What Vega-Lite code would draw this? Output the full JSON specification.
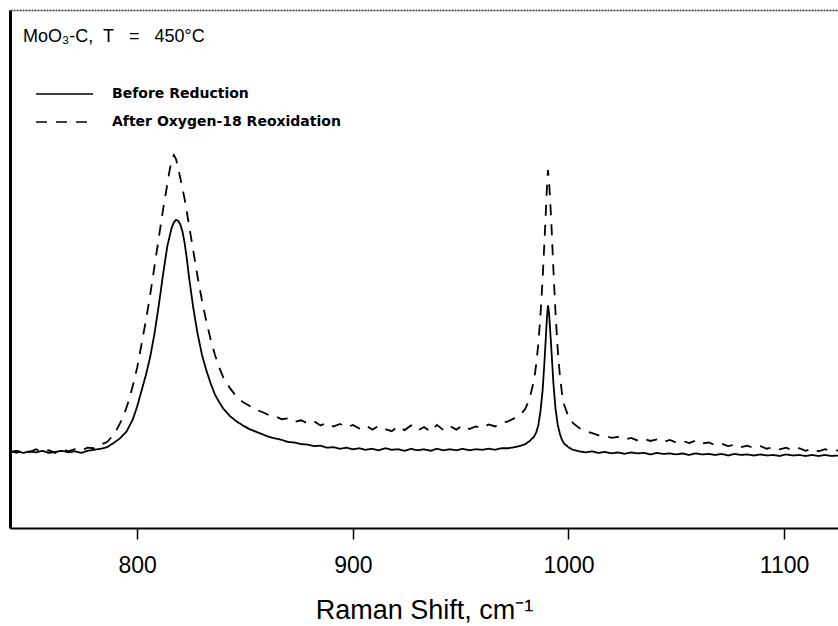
{
  "$schema": "https://vega.github.io/schema/vega-lite/v6.json",
  "width": 828,
  "height": 518,
  "autosize": {"type": "none"},
  "padding": {"left": 10, "top": 10, "right": 0, "bottom": 98},
  "background": "white",
  "config": {"view": {"stroke": null}, "font": "Liberation Sans"},
  "title": {"text": "MoO\u2083-C,\u00a0 T\u00a0\u00a0 =\u00a0\u00a0 450°C", "anchor": "start", "frame": "group", "orient": "top", "offset": -18, "baseline": "alphabetic", "dx": 13, "dy": 32, "fontSize": 18, "fontWeight": "normal", "font": "Liberation Sans", "color": "black"},
  "data": {"values": [
    {"w":741,"i":14.6,"s":"Before Reduction"},{"w":744,"i":14.9,"s":"Before Reduction"},{"w":747,"i":14.5,"s":"Before Reduction"},{"w":750,"i":14.8,"s":"Before Reduction"},{"w":753,"i":14.6,"s":"Before Reduction"},{"w":756,"i":14.9,"s":"Before Reduction"},{"w":759,"i":14.5,"s":"Before Reduction"},{"w":762,"i":14.7,"s":"Before Reduction"},{"w":765,"i":14.9,"s":"Before Reduction"},{"w":768,"i":14.6,"s":"Before Reduction"},{"w":771,"i":14.8,"s":"Before Reduction"},{"w":774,"i":14.5,"s":"Before Reduction"},{"w":777,"i":14.9,"s":"Before Reduction"},{"w":780,"i":15.1,"s":"Before Reduction"},{"w":783,"i":15.3,"s":"Before Reduction"},{"w":786,"i":15.6,"s":"Before Reduction"},{"w":789,"i":16.4,"s":"Before Reduction"},{"w":792,"i":17.3,"s":"Before Reduction"},{"w":795,"i":18.6,"s":"Before Reduction"},{"w":798,"i":21.0,"s":"Before Reduction"},{"w":800,"i":23.5,"s":"Before Reduction"},{"w":802,"i":26.5,"s":"Before Reduction"},{"w":804,"i":29.5,"s":"Before Reduction"},{"w":806,"i":33.0,"s":"Before Reduction"},{"w":808,"i":37.5,"s":"Before Reduction"},{"w":810,"i":43.0,"s":"Before Reduction"},{"w":812,"i":49.0,"s":"Before Reduction"},{"w":814,"i":54.5,"s":"Before Reduction"},{"w":816,"i":58.0,"s":"Before Reduction"},{"w":817,"i":59.0,"s":"Before Reduction"},{"w":818,"i":59.5,"s":"Before Reduction"},{"w":819,"i":59.3,"s":"Before Reduction"},{"w":820,"i":58.6,"s":"Before Reduction"},{"w":821,"i":57.2,"s":"Before Reduction"},{"w":822,"i":55.0,"s":"Before Reduction"},{"w":823,"i":52.0,"s":"Before Reduction"},{"w":824,"i":48.5,"s":"Before Reduction"},{"w":825,"i":45.5,"s":"Before Reduction"},{"w":826,"i":42.5,"s":"Before Reduction"},{"w":828,"i":37.5,"s":"Before Reduction"},{"w":830,"i":33.5,"s":"Before Reduction"},{"w":832,"i":30.5,"s":"Before Reduction"},{"w":834,"i":28.0,"s":"Before Reduction"},{"w":836,"i":25.8,"s":"Before Reduction"},{"w":838,"i":24.3,"s":"Before Reduction"},{"w":840,"i":23.0,"s":"Before Reduction"},{"w":843,"i":21.6,"s":"Before Reduction"},{"w":846,"i":20.6,"s":"Before Reduction"},{"w":849,"i":19.8,"s":"Before Reduction"},{"w":852,"i":19.1,"s":"Before Reduction"},{"w":855,"i":18.6,"s":"Before Reduction"},{"w":858,"i":18.1,"s":"Before Reduction"},{"w":861,"i":17.6,"s":"Before Reduction"},{"w":864,"i":17.3,"s":"Before Reduction"},{"w":867,"i":17.0,"s":"Before Reduction"},{"w":870,"i":16.6,"s":"Before Reduction"},{"w":873,"i":16.5,"s":"Before Reduction"},{"w":876,"i":16.2,"s":"Before Reduction"},{"w":879,"i":16.1,"s":"Before Reduction"},{"w":882,"i":15.8,"s":"Before Reduction"},{"w":885,"i":15.9,"s":"Before Reduction"},{"w":888,"i":15.5,"s":"Before Reduction"},{"w":891,"i":15.6,"s":"Before Reduction"},{"w":894,"i":15.3,"s":"Before Reduction"},{"w":897,"i":15.5,"s":"Before Reduction"},{"w":900,"i":15.2,"s":"Before Reduction"},{"w":903,"i":15.4,"s":"Before Reduction"},{"w":906,"i":15.1,"s":"Before Reduction"},{"w":909,"i":15.3,"s":"Before Reduction"},{"w":912,"i":15.0,"s":"Before Reduction"},{"w":915,"i":15.4,"s":"Before Reduction"},{"w":918,"i":15.1,"s":"Before Reduction"},{"w":921,"i":15.2,"s":"Before Reduction"},{"w":924,"i":14.9,"s":"Before Reduction"},{"w":927,"i":15.3,"s":"Before Reduction"},{"w":930,"i":15.0,"s":"Before Reduction"},{"w":933,"i":15.2,"s":"Before Reduction"},{"w":936,"i":14.9,"s":"Before Reduction"},{"w":939,"i":15.3,"s":"Before Reduction"},{"w":942,"i":15.0,"s":"Before Reduction"},{"w":945,"i":15.2,"s":"Before Reduction"},{"w":948,"i":15.0,"s":"Before Reduction"},{"w":951,"i":15.3,"s":"Before Reduction"},{"w":954,"i":15.0,"s":"Before Reduction"},{"w":957,"i":15.2,"s":"Before Reduction"},{"w":960,"i":15.1,"s":"Before Reduction"},{"w":963,"i":15.3,"s":"Before Reduction"},{"w":966,"i":15.1,"s":"Before Reduction"},{"w":969,"i":15.4,"s":"Before Reduction"},{"w":972,"i":15.4,"s":"Before Reduction"},{"w":975,"i":15.6,"s":"Before Reduction"},{"w":978,"i":15.9,"s":"Before Reduction"},{"w":980,"i":16.2,"s":"Before Reduction"},{"w":982,"i":16.8,"s":"Before Reduction"},{"w":984,"i":17.6,"s":"Before Reduction"},{"w":985,"i":18.4,"s":"Before Reduction"},{"w":986,"i":19.8,"s":"Before Reduction"},{"w":987,"i":22.5,"s":"Before Reduction"},{"w":988,"i":26.5,"s":"Before Reduction"},{"w":989,"i":33.0,"s":"Before Reduction"},{"w":990,"i":40.5,"s":"Before Reduction"},{"w":990.5,"i":43.0,"s":"Before Reduction"},{"w":991,"i":41.5,"s":"Before Reduction"},{"w":992,"i":35.0,"s":"Before Reduction"},{"w":993,"i":28.0,"s":"Before Reduction"},{"w":994,"i":23.0,"s":"Before Reduction"},{"w":995,"i":20.0,"s":"Before Reduction"},{"w":996,"i":18.2,"s":"Before Reduction"},{"w":997,"i":17.0,"s":"Before Reduction"},{"w":998,"i":16.3,"s":"Before Reduction"},{"w":1000,"i":15.6,"s":"Before Reduction"},{"w":1002,"i":15.1,"s":"Before Reduction"},{"w":1005,"i":14.8,"s":"Before Reduction"},{"w":1008,"i":14.6,"s":"Before Reduction"},{"w":1011,"i":14.8,"s":"Before Reduction"},{"w":1014,"i":14.5,"s":"Before Reduction"},{"w":1017,"i":14.7,"s":"Before Reduction"},{"w":1020,"i":14.4,"s":"Before Reduction"},{"w":1023,"i":14.6,"s":"Before Reduction"},{"w":1026,"i":14.3,"s":"Before Reduction"},{"w":1029,"i":14.6,"s":"Before Reduction"},{"w":1032,"i":14.4,"s":"Before Reduction"},{"w":1035,"i":14.5,"s":"Before Reduction"},{"w":1038,"i":14.2,"s":"Before Reduction"},{"w":1041,"i":14.5,"s":"Before Reduction"},{"w":1044,"i":14.3,"s":"Before Reduction"},{"w":1047,"i":14.4,"s":"Before Reduction"},{"w":1050,"i":14.2,"s":"Before Reduction"},{"w":1053,"i":14.4,"s":"Before Reduction"},{"w":1056,"i":14.1,"s":"Before Reduction"},{"w":1059,"i":14.4,"s":"Before Reduction"},{"w":1062,"i":14.2,"s":"Before Reduction"},{"w":1065,"i":14.3,"s":"Before Reduction"},{"w":1068,"i":14.1,"s":"Before Reduction"},{"w":1071,"i":14.3,"s":"Before Reduction"},{"w":1074,"i":14.0,"s":"Before Reduction"},{"w":1077,"i":14.3,"s":"Before Reduction"},{"w":1080,"i":14.1,"s":"Before Reduction"},{"w":1083,"i":14.2,"s":"Before Reduction"},{"w":1086,"i":14.0,"s":"Before Reduction"},{"w":1089,"i":14.2,"s":"Before Reduction"},{"w":1092,"i":14.0,"s":"Before Reduction"},{"w":1095,"i":14.1,"s":"Before Reduction"},{"w":1098,"i":13.9,"s":"Before Reduction"},{"w":1101,"i":14.2,"s":"Before Reduction"},{"w":1104,"i":14.0,"s":"Before Reduction"},{"w":1107,"i":14.1,"s":"Before Reduction"},{"w":1110,"i":13.9,"s":"Before Reduction"},{"w":1113,"i":14.1,"s":"Before Reduction"},{"w":1116,"i":13.9,"s":"Before Reduction"},{"w":1119,"i":14.1,"s":"Before Reduction"},{"w":1122,"i":13.9,"s":"Before Reduction"},{"w":1125,"i":14.0,"s":"Before Reduction"},
    {"w":741,"i":14.9,"s":"After Oxygen-18 Reoxidation"},{"w":744,"i":14.5,"s":"After Oxygen-18 Reoxidation"},{"w":747,"i":15.1,"s":"After Oxygen-18 Reoxidation"},{"w":750,"i":14.6,"s":"After Oxygen-18 Reoxidation"},{"w":753,"i":15.2,"s":"After Oxygen-18 Reoxidation"},{"w":756,"i":14.7,"s":"After Oxygen-18 Reoxidation"},{"w":759,"i":15.0,"s":"After Oxygen-18 Reoxidation"},{"w":762,"i":14.5,"s":"After Oxygen-18 Reoxidation"},{"w":765,"i":15.3,"s":"After Oxygen-18 Reoxidation"},{"w":768,"i":14.8,"s":"After Oxygen-18 Reoxidation"},{"w":771,"i":15.2,"s":"After Oxygen-18 Reoxidation"},{"w":774,"i":14.9,"s":"After Oxygen-18 Reoxidation"},{"w":777,"i":15.5,"s":"After Oxygen-18 Reoxidation"},{"w":780,"i":15.4,"s":"After Oxygen-18 Reoxidation"},{"w":783,"i":16.1,"s":"After Oxygen-18 Reoxidation"},{"w":786,"i":16.6,"s":"After Oxygen-18 Reoxidation"},{"w":788,"i":17.5,"s":"After Oxygen-18 Reoxidation"},{"w":790,"i":18.6,"s":"After Oxygen-18 Reoxidation"},{"w":792,"i":20.2,"s":"After Oxygen-18 Reoxidation"},{"w":794,"i":22.0,"s":"After Oxygen-18 Reoxidation"},{"w":796,"i":24.5,"s":"After Oxygen-18 Reoxidation"},{"w":798,"i":27.5,"s":"After Oxygen-18 Reoxidation"},{"w":800,"i":31.0,"s":"After Oxygen-18 Reoxidation"},{"w":802,"i":35.5,"s":"After Oxygen-18 Reoxidation"},{"w":804,"i":40.0,"s":"After Oxygen-18 Reoxidation"},{"w":806,"i":45.0,"s":"After Oxygen-18 Reoxidation"},{"w":808,"i":50.5,"s":"After Oxygen-18 Reoxidation"},{"w":810,"i":56.0,"s":"After Oxygen-18 Reoxidation"},{"w":812,"i":61.5,"s":"After Oxygen-18 Reoxidation"},{"w":814,"i":66.5,"s":"After Oxygen-18 Reoxidation"},{"w":815,"i":69.0,"s":"After Oxygen-18 Reoxidation"},{"w":816,"i":71.0,"s":"After Oxygen-18 Reoxidation"},{"w":817,"i":72.0,"s":"After Oxygen-18 Reoxidation"},{"w":818,"i":71.2,"s":"After Oxygen-18 Reoxidation"},{"w":819,"i":69.5,"s":"After Oxygen-18 Reoxidation"},{"w":820,"i":67.5,"s":"After Oxygen-18 Reoxidation"},{"w":821,"i":65.5,"s":"After Oxygen-18 Reoxidation"},{"w":822,"i":63.5,"s":"After Oxygen-18 Reoxidation"},{"w":823,"i":61.0,"s":"After Oxygen-18 Reoxidation"},{"w":824,"i":58.5,"s":"After Oxygen-18 Reoxidation"},{"w":825,"i":56.0,"s":"After Oxygen-18 Reoxidation"},{"w":826,"i":53.5,"s":"After Oxygen-18 Reoxidation"},{"w":827,"i":51.0,"s":"After Oxygen-18 Reoxidation"},{"w":828,"i":48.5,"s":"After Oxygen-18 Reoxidation"},{"w":830,"i":44.0,"s":"After Oxygen-18 Reoxidation"},{"w":832,"i":40.0,"s":"After Oxygen-18 Reoxidation"},{"w":834,"i":36.5,"s":"After Oxygen-18 Reoxidation"},{"w":836,"i":33.5,"s":"After Oxygen-18 Reoxidation"},{"w":838,"i":31.0,"s":"After Oxygen-18 Reoxidation"},{"w":840,"i":29.0,"s":"After Oxygen-18 Reoxidation"},{"w":843,"i":27.0,"s":"After Oxygen-18 Reoxidation"},{"w":846,"i":25.4,"s":"After Oxygen-18 Reoxidation"},{"w":849,"i":24.3,"s":"After Oxygen-18 Reoxidation"},{"w":852,"i":23.6,"s":"After Oxygen-18 Reoxidation"},{"w":855,"i":22.8,"s":"After Oxygen-18 Reoxidation"},{"w":858,"i":22.4,"s":"After Oxygen-18 Reoxidation"},{"w":861,"i":21.8,"s":"After Oxygen-18 Reoxidation"},{"w":864,"i":21.6,"s":"After Oxygen-18 Reoxidation"},{"w":867,"i":21.0,"s":"After Oxygen-18 Reoxidation"},{"w":870,"i":21.2,"s":"After Oxygen-18 Reoxidation"},{"w":873,"i":20.5,"s":"After Oxygen-18 Reoxidation"},{"w":876,"i":20.8,"s":"After Oxygen-18 Reoxidation"},{"w":879,"i":20.2,"s":"After Oxygen-18 Reoxidation"},{"w":882,"i":20.6,"s":"After Oxygen-18 Reoxidation"},{"w":885,"i":19.8,"s":"After Oxygen-18 Reoxidation"},{"w":888,"i":20.3,"s":"After Oxygen-18 Reoxidation"},{"w":891,"i":19.6,"s":"After Oxygen-18 Reoxidation"},{"w":894,"i":20.1,"s":"After Oxygen-18 Reoxidation"},{"w":897,"i":19.4,"s":"After Oxygen-18 Reoxidation"},{"w":900,"i":19.9,"s":"After Oxygen-18 Reoxidation"},{"w":903,"i":19.2,"s":"After Oxygen-18 Reoxidation"},{"w":906,"i":19.8,"s":"After Oxygen-18 Reoxidation"},{"w":909,"i":19.0,"s":"After Oxygen-18 Reoxidation"},{"w":912,"i":19.7,"s":"After Oxygen-18 Reoxidation"},{"w":915,"i":19.1,"s":"After Oxygen-18 Reoxidation"},{"w":918,"i":18.7,"s":"After Oxygen-18 Reoxidation"},{"w":921,"i":19.6,"s":"After Oxygen-18 Reoxidation"},{"w":924,"i":18.9,"s":"After Oxygen-18 Reoxidation"},{"w":927,"i":19.8,"s":"After Oxygen-18 Reoxidation"},{"w":930,"i":18.8,"s":"After Oxygen-18 Reoxidation"},{"w":933,"i":19.5,"s":"After Oxygen-18 Reoxidation"},{"w":936,"i":18.6,"s":"After Oxygen-18 Reoxidation"},{"w":939,"i":19.9,"s":"After Oxygen-18 Reoxidation"},{"w":942,"i":18.9,"s":"After Oxygen-18 Reoxidation"},{"w":945,"i":19.7,"s":"After Oxygen-18 Reoxidation"},{"w":948,"i":19.0,"s":"After Oxygen-18 Reoxidation"},{"w":951,"i":19.8,"s":"After Oxygen-18 Reoxidation"},{"w":954,"i":19.1,"s":"After Oxygen-18 Reoxidation"},{"w":957,"i":19.6,"s":"After Oxygen-18 Reoxidation"},{"w":960,"i":19.3,"s":"After Oxygen-18 Reoxidation"},{"w":963,"i":20.0,"s":"After Oxygen-18 Reoxidation"},{"w":966,"i":19.6,"s":"After Oxygen-18 Reoxidation"},{"w":969,"i":20.3,"s":"After Oxygen-18 Reoxidation"},{"w":972,"i":20.6,"s":"After Oxygen-18 Reoxidation"},{"w":975,"i":21.2,"s":"After Oxygen-18 Reoxidation"},{"w":978,"i":22.0,"s":"After Oxygen-18 Reoxidation"},{"w":980,"i":23.0,"s":"After Oxygen-18 Reoxidation"},{"w":982,"i":25.0,"s":"After Oxygen-18 Reoxidation"},{"w":984,"i":28.5,"s":"After Oxygen-18 Reoxidation"},{"w":985,"i":31.5,"s":"After Oxygen-18 Reoxidation"},{"w":986,"i":35.5,"s":"After Oxygen-18 Reoxidation"},{"w":987,"i":41.0,"s":"After Oxygen-18 Reoxidation"},{"w":988,"i":48.0,"s":"After Oxygen-18 Reoxidation"},{"w":989,"i":56.5,"s":"After Oxygen-18 Reoxidation"},{"w":990,"i":65.5,"s":"After Oxygen-18 Reoxidation"},{"w":990.5,"i":69.1,"s":"After Oxygen-18 Reoxidation"},{"w":991,"i":67.0,"s":"After Oxygen-18 Reoxidation"},{"w":992,"i":59.5,"s":"After Oxygen-18 Reoxidation"},{"w":993,"i":50.0,"s":"After Oxygen-18 Reoxidation"},{"w":994,"i":41.5,"s":"After Oxygen-18 Reoxidation"},{"w":995,"i":34.5,"s":"After Oxygen-18 Reoxidation"},{"w":996,"i":29.5,"s":"After Oxygen-18 Reoxidation"},{"w":997,"i":26.0,"s":"After Oxygen-18 Reoxidation"},{"w":998,"i":23.8,"s":"After Oxygen-18 Reoxidation"},{"w":1000,"i":21.5,"s":"After Oxygen-18 Reoxidation"},{"w":1002,"i":20.3,"s":"After Oxygen-18 Reoxidation"},{"w":1005,"i":19.3,"s":"After Oxygen-18 Reoxidation"},{"w":1008,"i":18.7,"s":"After Oxygen-18 Reoxidation"},{"w":1011,"i":18.3,"s":"After Oxygen-18 Reoxidation"},{"w":1014,"i":17.9,"s":"After Oxygen-18 Reoxidation"},{"w":1017,"i":17.8,"s":"After Oxygen-18 Reoxidation"},{"w":1020,"i":17.4,"s":"After Oxygen-18 Reoxidation"},{"w":1023,"i":17.6,"s":"After Oxygen-18 Reoxidation"},{"w":1026,"i":17.1,"s":"After Oxygen-18 Reoxidation"},{"w":1029,"i":17.4,"s":"After Oxygen-18 Reoxidation"},{"w":1032,"i":16.9,"s":"After Oxygen-18 Reoxidation"},{"w":1035,"i":17.2,"s":"After Oxygen-18 Reoxidation"},{"w":1038,"i":16.8,"s":"After Oxygen-18 Reoxidation"},{"w":1041,"i":17.1,"s":"After Oxygen-18 Reoxidation"},{"w":1044,"i":16.6,"s":"After Oxygen-18 Reoxidation"},{"w":1047,"i":17.0,"s":"After Oxygen-18 Reoxidation"},{"w":1050,"i":16.5,"s":"After Oxygen-18 Reoxidation"},{"w":1053,"i":16.8,"s":"After Oxygen-18 Reoxidation"},{"w":1056,"i":16.4,"s":"After Oxygen-18 Reoxidation"},{"w":1059,"i":16.9,"s":"After Oxygen-18 Reoxidation"},{"w":1062,"i":16.3,"s":"After Oxygen-18 Reoxidation"},{"w":1065,"i":16.5,"s":"After Oxygen-18 Reoxidation"},{"w":1068,"i":16.0,"s":"After Oxygen-18 Reoxidation"},{"w":1071,"i":16.3,"s":"After Oxygen-18 Reoxidation"},{"w":1074,"i":15.8,"s":"After Oxygen-18 Reoxidation"},{"w":1077,"i":16.1,"s":"After Oxygen-18 Reoxidation"},{"w":1080,"i":15.6,"s":"After Oxygen-18 Reoxidation"},{"w":1083,"i":15.9,"s":"After Oxygen-18 Reoxidation"},{"w":1086,"i":15.4,"s":"After Oxygen-18 Reoxidation"},{"w":1089,"i":15.8,"s":"After Oxygen-18 Reoxidation"},{"w":1092,"i":15.3,"s":"After Oxygen-18 Reoxidation"},{"w":1095,"i":15.6,"s":"After Oxygen-18 Reoxidation"},{"w":1098,"i":15.2,"s":"After Oxygen-18 Reoxidation"},{"w":1101,"i":15.5,"s":"After Oxygen-18 Reoxidation"},{"w":1104,"i":15.0,"s":"After Oxygen-18 Reoxidation"},{"w":1107,"i":15.4,"s":"After Oxygen-18 Reoxidation"},{"w":1110,"i":14.9,"s":"After Oxygen-18 Reoxidation"},{"w":1113,"i":15.3,"s":"After Oxygen-18 Reoxidation"},{"w":1116,"i":14.8,"s":"After Oxygen-18 Reoxidation"},{"w":1119,"i":15.2,"s":"After Oxygen-18 Reoxidation"},{"w":1122,"i":14.8,"s":"After Oxygen-18 Reoxidation"},{"w":1125,"i":15.0,"s":"After Oxygen-18 Reoxidation"}
  ]},
  "layer": [
    {
      "mark": {"type": "line", "color": "black", "strokeWidth": 1.8, "clip": true, "interpolate": "linear"},
      "encoding": {
        "x": {"field": "w", "type": "quantitative", "scale": {"domain": [741, 1125], "nice": false, "zero": false},
          "axis": {"orient": "bottom", "values": [800, 900, 1000, 1100], "format": "d", "grid": false, "tickSize": 11, "tickWidth": 1.5, "tickColor": "black", "domainColor": "black", "domainWidth": 2, "labelFont": "Liberation Sans", "labelFontSize": 23, "labelColor": "black", "labelPadding": 15, "title": "Raman Shift, cm⁻¹", "titleFont": "Liberation Sans", "titleFontSize": 27, "titleFontWeight": "normal", "titleColor": "black", "titlePadding": 20}},
        "y": {"field": "i", "type": "quantitative", "scale": {"domain": [0, 100], "nice": false},
          "axis": {"orient": "left", "grid": false, "ticks": false, "labels": false, "title": null, "domainColor": "black", "domainWidth": 3}},
        "strokeDash": {"field": "s", "type": "nominal",
          "scale": {"domain": ["Before Reduction", "After Oxygen-18 Reoxidation"], "range": [[1, 0], [11, 9]]},
          "legend": {"orient": "none", "legendX": 25, "legendY": 70, "title": null, "padding": 0, "symbolType": "stroke", "symbolSize": 3249, "symbolStrokeWidth": 1.5, "symbolStrokeColor": "black", "labelFont": "DejaVu Sans", "labelFontWeight": "bold", "labelFontSize": 14, "labelColor": "black", "labelOffset": 18, "labelLimit": 0, "clipHeight": 28, "rowPadding": 0}}
      }
    },
    {
      "mark": {"type": "line", "strokeOpacity": 0, "clip": true},
      "encoding": {
        "x": {"field": "w", "type": "quantitative", "axis": {"orient": "top", "labels": false, "ticks": false, "grid": false, "title": null, "domainColor": "#333", "domainWidth": 1.5, "domainDash": [2, 1]}},
        "y": {"field": "i", "type": "quantitative"},
        "detail": {"field": "s"}
      }
    }
  ],
  "resolve": {"axis": {"x": "independent"}}
}
